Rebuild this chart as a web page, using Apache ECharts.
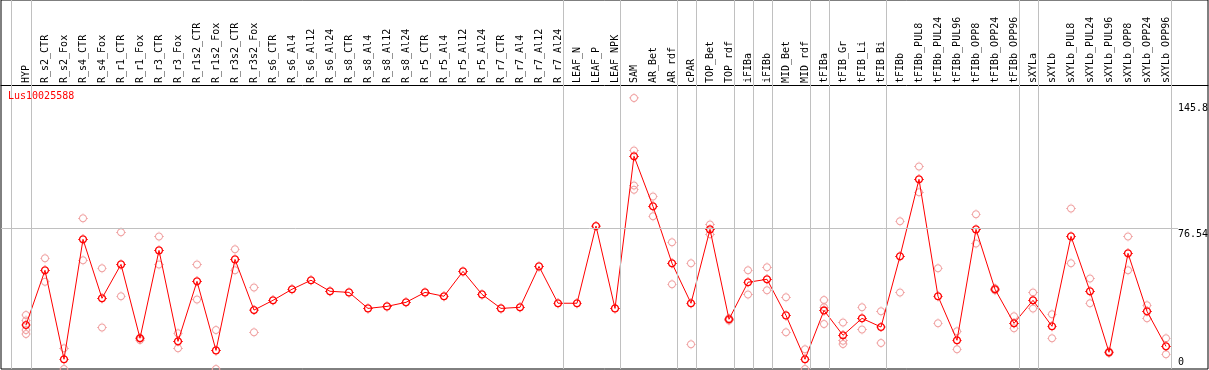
<!DOCTYPE html>
<html>
<head>
<meta charset="utf-8">
<script src="https://cdn.jsdelivr.net/npm/echarts@6/dist/echarts.min.js"></script>
<style>
html,body{margin:0;padding:0;background:#fff;}
#chart{width:1209px;height:370px;}
</style>
</head>
<body>
<div id="chart"></div>
<script>
const geneId = 'Lus10025588';
const categories = ['HYP','R_s2_CTR','R_s2_Fox','R_s4_CTR','R_s4_Fox','R_r1_CTR','R_r1_Fox','R_r3_CTR','R_r3_Fox','R_r1s2_CTR','R_r1s2_Fox','R_r3s2_CTR','R_r3s2_Fox','R_s6_CTR','R_s6_Al4','R_s6_Al12','R_s6_Al24','R_s8_CTR','R_s8_Al4','R_s8_Al12','R_s8_Al24','R_r5_CTR','R_r5_Al4','R_r5_Al12','R_r5_Al24','R_r7_CTR','R_r7_Al4','R_r7_Al12','R_r7_Al24','LEAF_N','LEAF_P','LEAF_NPK','SAM','AR_Bet','AR_rdf','cPAR','TOP_Bet','TOP_rdf','iFIBa','iFIBb','MID_Bet','MID_rdf','tFIBa','tFIB_Gr','tFIB_Li','tFIB_Bi','tFIBb','tFIBb_PUL8','tFIBb_PUL24','tFIBb_PUL96','tFIBb_OPP8','tFIBb_OPP24','tFIBb_OPP96','sXYLa','sXYLb','sXYLb_PUL8','sXYLb_PUL24','sXYLb_PUL96','sXYLb_OPP8','sXYLb_OPP24','sXYLb_OPP96'];
const meanValues = [23.9,53.6,5.3,70.4,38.4,56.8,16.7,64.4,15.0,47.6,10.1,59.5,32.0,37.3,43.3,48.2,42.2,41.6,32.9,34.0,36.2,41.6,39.5,53.0,40.5,32.9,33.5,55.7,35.7,35.7,77.6,32.9,115.5,88.3,57.4,35.7,75.8,27.0,47.1,48.7,29.1,5.3,31.8,18.3,27.5,22.8,61.2,103.0,39.5,15.6,75.8,43.3,24.8,37.3,23.2,72.0,42.2,9.1,62.8,31.3,12.3];
const replicateValues = [
  [29.3,26.3,21.2,19.0],[60.1,47.4],[11.2,0],[81.8,59.0],[54.7,22.6],[74.2,39.5],[17.0,15.7],[72.0,56.8],[19.4,11.2],[56.8,37.8],[21.2,0],[65.0,53.6],[44.3,19.9],
  [],[],[],[],[],[],[],[],[],[],[],[],[],[],[],[],[],[],[],
  [147.2,118.7,99.7,97.3],[93.7,82.9],[68.8,46.0],[57.4,13.4],[78.5,73.1],[27.5,26.4],[53.6,40.5],[55.2,42.7],[38.9,19.9],[10.7,0],[37.5,33.5,24.4],[25.3,15.4,13.6],[33.5,21.5],[31.3,14.1],[80.2,41.6],[110.0,95.9],[54.7,24.8],[20.5,10.7],[84.0,68.2],[43.8,42.7],[28.6,22.1],[41.6,32.9],[29.7,16.7],[87.2,57.4],[49.2,35.7],[9.5,8.7],[72.0,53.6],[34.6,27.5],[16.7,8.0]
];
const groupSeparators = [-0.78,0.25,28.25,31.25,34.25,35.25,37.25,38.25,39.25,41.25,42.25,45.25,52.25,53.25,60.25];
const yTickLabels = [0, 76.54, 145.8];

const X_MIN = -25/19, X_MAX = -25/19 + 1207/19;
const Y_MAX = 154.2;
const mono = 'DejaVu Sans Mono';

// ring-with-small-ticks marker path (S box, 1 unit = 1px)
function ringPath(S, ro, ri, tw) {
  const c = S / 2, K = 0.5523;
  const f = n => n.toFixed(3);
  function circ(r, cw) {
    const k = K * r;
    if (cw) {
      return 'M' + f(c - r) + ' ' + f(c) +
        'C' + f(c - r) + ' ' + f(c - k) + ' ' + f(c - k) + ' ' + f(c - r) + ' ' + f(c) + ' ' + f(c - r) +
        'C' + f(c + k) + ' ' + f(c - r) + ' ' + f(c + r) + ' ' + f(c - k) + ' ' + f(c + r) + ' ' + f(c) +
        'C' + f(c + r) + ' ' + f(c + k) + ' ' + f(c + k) + ' ' + f(c + r) + ' ' + f(c) + ' ' + f(c + r) +
        'C' + f(c - k) + ' ' + f(c + r) + ' ' + f(c - r) + ' ' + f(c + k) + ' ' + f(c - r) + ' ' + f(c) + 'Z';
    }
    return 'M' + f(c - r) + ' ' + f(c) +
      'C' + f(c - r) + ' ' + f(c + k) + ' ' + f(c - k) + ' ' + f(c + r) + ' ' + f(c) + ' ' + f(c + r) +
      'C' + f(c + k) + ' ' + f(c + r) + ' ' + f(c + r) + ' ' + f(c + k) + ' ' + f(c + r) + ' ' + f(c) +
      'C' + f(c + r) + ' ' + f(c - k) + ' ' + f(c + k) + ' ' + f(c - r) + ' ' + f(c) + ' ' + f(c - r) +
      'C' + f(c - k) + ' ' + f(c - r) + ' ' + f(c - r) + ' ' + f(c - k) + ' ' + f(c - r) + ' ' + f(c) + 'Z';
  }
  const t = c - ro + 0.3, w = tw / 2;
  const ticks =
    'M' + f(c - w) + ' 0H' + f(c + w) + 'V' + f(t) + 'H' + f(c - w) + 'Z' +
    'M' + f(c - w) + ' ' + f(S - t) + 'H' + f(c + w) + 'V' + f(S) + 'H' + f(c - w) + 'Z' +
    'M0 ' + f(c - w) + 'H' + f(t) + 'V' + f(c + w) + 'H0Z' +
    'M' + f(S - t) + ' ' + f(c - w) + 'H' + f(S) + 'V' + f(c + w) + 'H' + f(S - t) + 'Z';
  return 'path://' + circ(ro, true) + circ(ri, false) + ticks;
}
const markerMain = ringPath(10, 4.1, 2.8, 0.7);
const markerRep = ringPath(10, 4.0, 3.0, 0.6);

const meanData = meanValues.map((v, i) => [i, v]);
const repData = [];
replicateValues.forEach((arr, i) => arr.forEach(v => repData.push([i, v])));

const chart = echarts.init(document.getElementById('chart'));
chart.setOption({
  animation: false,
  backgroundColor: '#fff',
  title: {
    text: geneId, left: 8, top: 91, padding: 0,
    textStyle: {fontSize: 10, fontFamily: mono, color: '#ff0000', fontWeight: 'normal'}
  },
  grid: [
    {left: 1, right: 1, top: 85, bottom: 1, outerBoundsMode: 'none', containLabel: false},
    {left: 1, right: 1, top: 0, bottom: 1, show: true, borderColor: '#000', borderWidth: 1, backgroundColor: 'transparent', outerBoundsMode: 'none', containLabel: false}
  ],
  xAxis: [
    {
      type: 'value', gridIndex: 0, position: 'top', min: X_MIN, max: X_MAX,
      axisLine: {show: true, onZero: false, lineStyle: {color: '#000', width: 1}},
      axisTick: {show: false},
      splitLine: {show: false},
      axisLabel: {
        customValues: categories.map((c, i) => i),
        formatter: v => categories[Math.round(v)] || '',
        rotate: -90, margin: 2, fontSize: 10, fontFamily: mono, color: '#000'
      }
    },
    {type: 'value', gridIndex: 1, min: X_MIN, max: X_MAX, show: false}
  ],
  yAxis: [
    {
      type: 'value', gridIndex: 0, position: 'right', min: 0, max: Y_MAX,
      axisLine: {show: false}, axisTick: {show: false}, splitLine: {show: false},
      axisLabel: {
        customValues: yTickLabels.filter(v => v > 0),
        inside: true, margin: 30, align: 'left', verticalAlign: 'top',
        fontSize: 10, fontFamily: mono, color: '#000',
        formatter: v => v > 100 ? '{a|' + v + '}' : '{b|' + v + '}',
        rich: {a: {fontSize: 10, fontFamily: mono, color: '#000', padding: [3, 0, 0, 0]}, b: {fontSize: 10, fontFamily: mono, color: '#000', padding: [1, 0, 0, 0]}}
      }
    },
    {
      type: 'value', gridIndex: 0, position: 'right', min: 0, max: Y_MAX,
      axisLine: {show: false}, axisTick: {show: false}, splitLine: {show: false},
      axisLabel: {
        customValues: yTickLabels.filter(v => v === 0),
        inside: true, margin: 30, align: 'left', verticalAlign: 'bottom',
        fontSize: 10, fontFamily: mono, color: '#000', padding: [0, 0, 2, 0]
      }
    },
    {type: 'value', gridIndex: 1, min: 0, max: 1, show: false}
  ],
  series: [
    {
      type: 'scatter', xAxisIndex: 1, yAxisIndex: 2, data: [], z: 1, silent: true,
      markLine: {
        silent: true, symbol: 'none', label: {show: false},
        lineStyle: {color: '#c0c0c0', width: 1, type: 'solid'},
        data: groupSeparators.map(x => ({xAxis: x}))
      }
    },
    {
      type: 'scatter', xAxisIndex: 0, yAxisIndex: 0, data: [], z: 1, silent: true,
      markLine: {
        silent: true, symbol: 'none', label: {show: false},
        lineStyle: {color: '#c0c0c0', width: 1, type: 'solid'},
        data: [[{coord: [X_MIN, yTickLabels[1]]}, {coord: [60.63, yTickLabels[1]]}]]
      }
    },
    {
      type: 'scatter', xAxisIndex: 0, yAxisIndex: 0, data: repData, z: 2, silent: true,
      clip: false,
      symbol: markerRep, symbolSize: 10, symbolKeepAspect: true,
      itemStyle: {color: '#f0a0a0', opacity: 1}
    },
    {
      type: 'line', xAxisIndex: 0, yAxisIndex: 0, data: meanData, z: 3, silent: true,
      symbol: markerMain, symbolSize: 10, symbolKeepAspect: true, showAllSymbol: true,
      lineStyle: {color: '#ff0000', width: 1},
      itemStyle: {color: '#ff0000', opacity: 1}
    }
  ]
});
</script>
</body>
</html>
